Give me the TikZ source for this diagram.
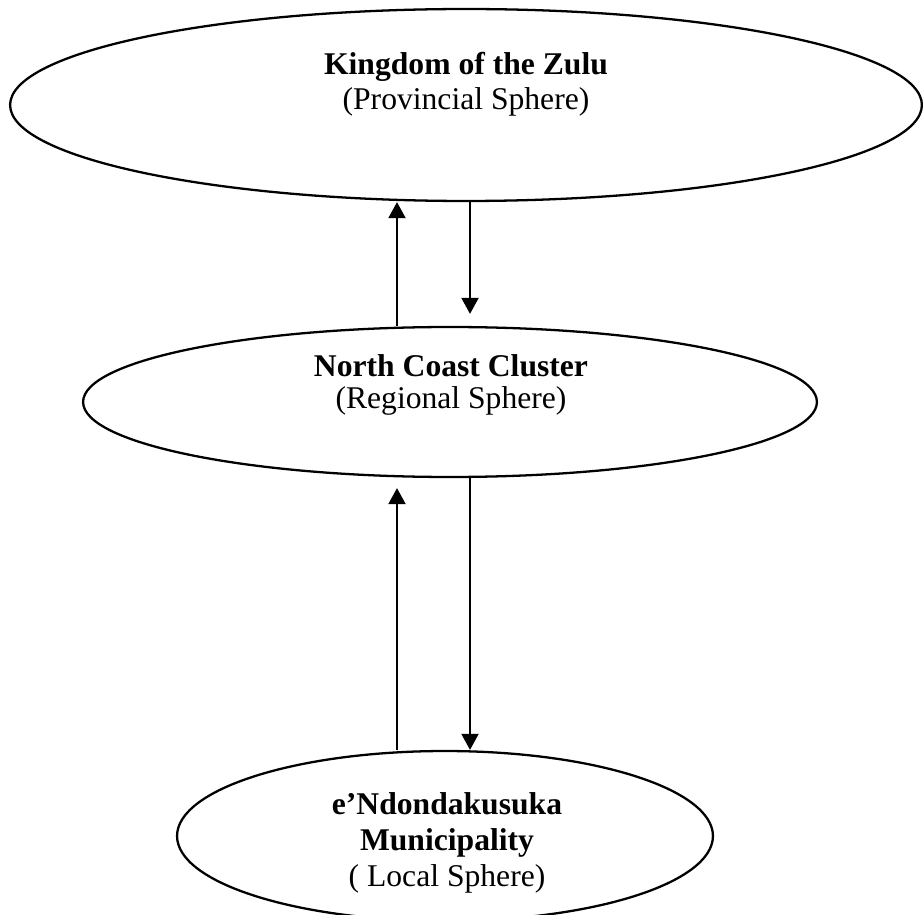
\documentclass[tikz,border=0pt]{standalone}
\usepackage{fontspec}
\setmainfont{Liberation Serif}
\usetikzlibrary{arrows.meta,shapes.geometric}

\begin{document}
\begin{tikzpicture}[x=0.02cm,y=-0.02cm,
	sphere/.style={ellipse,draw,line width=1.3pt,inner sep=0pt},
	spheretext/.style={align=center,font=\fontsize{18}{20}\selectfont},
	link/.style={line width=1.1pt,-{Triangle[length=0.32cm,width=0.34cm]}}]
\useasboundingbox (0,0) rectangle (923,915);
% the three spheres
\node[sphere,minimum width=18.24cm,minimum height=3.84cm](kingdom) at (466,105){};
\node[sphere,minimum width=14.68cm,minimum height=3cm](coast) at (450,402){};
\node[sphere,minimum width=10.72cm,minimum height=3.4cm](local) at (445,836){};
\node[spheretext](kingdomtext) at (466,84){\textbf{Kingdom of the Zulu}\\(Provincial Sphere)};
\node[spheretext,font=\fontsize{18}{18.5}\selectfont](coasttext) at (451,385){\textbf{North Coast Cluster}\\(Regional Sphere)};
\node[spheretext,font=\fontsize{18}{20.5}\selectfont](localtext) at (447,843){\textbf{e’Ndondakusuka}\\\textbf{Municipality}\\( Local Sphere)};
% arrows
\coordinate (upx) at (397,0);
\coordinate (downx) at (470,0);
\draw[link] (coast.north -| upx) -- (kingdom.south -| upx);
\draw[link,shorten >=0.24cm] (kingdom.south -| downx) -- (coast.north -| downx);
\draw[link,shorten >=0.2cm] (local.north -| upx) -- (coast.south -| upx);
\draw[link] (coast.south -| downx) -- (local.north -| downx);
\end{tikzpicture}
\end{document}
